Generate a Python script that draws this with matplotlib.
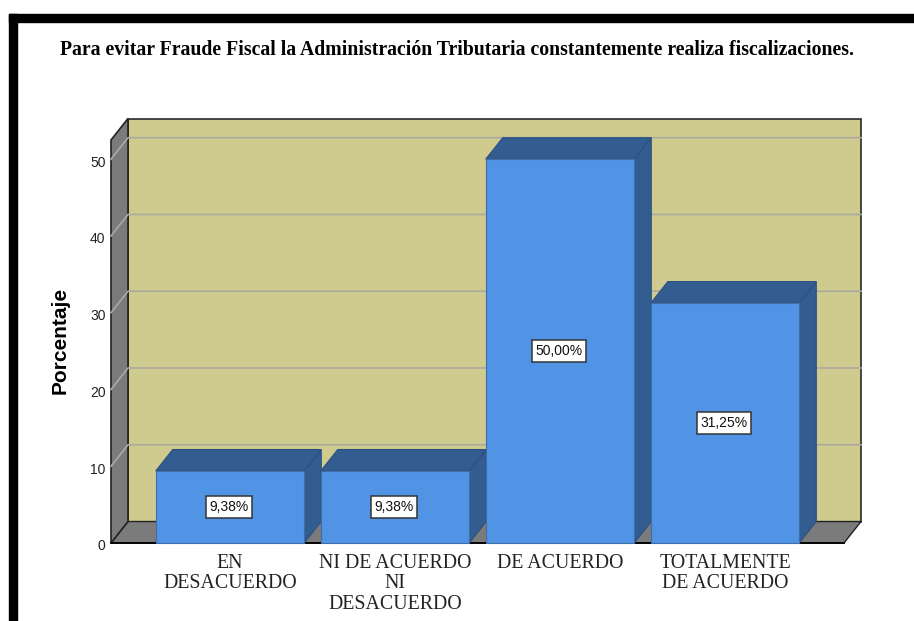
import matplotlib
matplotlib.use('Agg')
import matplotlib.pyplot as plt
from matplotlib.patches import Polygon, Rectangle
from matplotlib.transforms import ScaledTranslation

categories = ['EN\nDESACUERDO', 'NI DE ACUERDO\nNI\nDESACUERDO', 'DE ACUERDO', 'TOTALMENTE\nDE ACUERDO']
values = [9.38, 9.38, 50.00, 31.25]
value_labels = ['9,38%', '9,38%', '50,00%', '31,25%']
y_ticks = [0, 10, 20, 30, 40, 50]

W, H = 914, 621
# front plane of the 3d box, in pixels
left, right, bottom, top = 111, 844, 543, 140
x_min, x_max = -0.721, 3.721
y_min, y_max = 0, 52.5
bar_width = 0.9
# depth of the box in data units
dx = 17 / 165
dy = 21.5 / 7.68

WALL = '#cfca8e'
GREY = '#7b7b7b'
BLUE = '#5193e4'
DARK = '#335c90'
GRID = '#aaaaa0'

fig = plt.figure(figsize=(W / 100, H / 100), dpi=100)
fig.patches.append(Rectangle((9 / W, 0), 8 / W, 1 - 14 / H, transform=fig.transFigure, color='black'))
fig.patches.append(Rectangle((9 / W, 1 - 21.5 / H), 1 - 9 / W, 7.5 / H, transform=fig.transFigure, color='black'))

ax = fig.add_axes([left / W, 1 - bottom / H, (right - left) / W, (bottom - top) / H])
ax.set_xlim(x_min, x_max)
ax.set_ylim(y_min, y_max)
ax.patch.set_visible(False)
for s in ax.spines.values():
    s.set_visible(False)


def poly(pts, fc, ec='none', lw=0.0, z=1):
    ax.add_patch(Polygon(pts, closed=True, fc=fc, ec=ec, lw=lw, zorder=z, clip_on=False))


# back wall, left wall, floor
poly([(x_min + dx, y_min + dy), (x_max + dx, y_min + dy), (x_max + dx, y_max + dy), (x_min + dx, y_max + dy)],
     WALL, '#2b2b2b', 1.2)
poly([(x_min, y_min), (x_min + dx, y_min + dy), (x_max + dx, y_min + dy), (x_max, y_min)], GREY, '#222222', 1.0)
poly([(x_min, y_min), (x_min + dx, y_min + dy), (x_min + dx, y_max + dy), (x_min, y_max)], GREY, '#222222', 1.2)

# grid on walls
for t in y_ticks[1:]:
    ax.plot([x_min, x_min + dx, x_max + dx], [t, t + dy, t + dy], color=GRID, lw=1.2, zorder=2, clip_on=False)

# axis line along the front of the floor
ax.plot([x_min, x_max], [y_min, y_min], color='black', lw=1.3, zorder=3, clip_on=False)

for i, v in enumerate(values):
    x0 = i - bar_width / 2
    x1 = i + bar_width / 2
    poly([(x1, 0), (x1 + dx, dy), (x1 + dx, v + dy), (x1, v)], DARK, '#2c5080', 0.8, 4)
    poly([(x0, v), (x0 + dx, v + dy), (x1 + dx, v + dy), (x1, v)], DARK, '#2c5080', 0.8, 4)
    poly([(x0, 0), (x1, 0), (x1, v), (x0, v)], BLUE, '#3f6ea8', 0.8, 5)
    ax.text(i - 0.006, v / 2, value_labels[i], ha='center', va='center', fontsize=10, family='Liberation Sans',
            color='#111111', zorder=6,
            bbox=dict(boxstyle='square,pad=0.26', fc='white', ec='#333333', lw=1.1))

ax.set_xticks(range(len(categories)))
ax.set_xticklabels(categories, family='Liberation Serif', fontsize=14.3, color='#222222', linespacing=1.09)
ax.set_yticks(y_ticks)
ax.set_yticklabels([str(t) for t in y_ticks], family='Liberation Sans', fontsize=10, color='#222222')
ax.tick_params(axis='both', length=0)
ax.tick_params(axis='x', pad=8)
ax.tick_params(axis='y', pad=4)
for lab in ax.get_yticklabels():
    lab.set_transform(lab.get_transform() + ScaledTranslation(0, -2 / 100, fig.dpi_scale_trans))

fig.text(60.5 / W, 1 - 340 / H, 'Porcentaje', rotation=90, ha='center', va='center', family='Liberation Sans',
         fontsize=15, fontweight='bold', color='black')
fig.text(457 / W, 1 - 50 / H, 'Para evitar Fraude Fiscal la Administración Tributaria constantemente realiza fiscalizaciones.',
         ha='center', va='center', family='Liberation Serif', fontsize=14.2, fontweight='bold', color='black')

fig.savefig('out.png', dpi=100)
